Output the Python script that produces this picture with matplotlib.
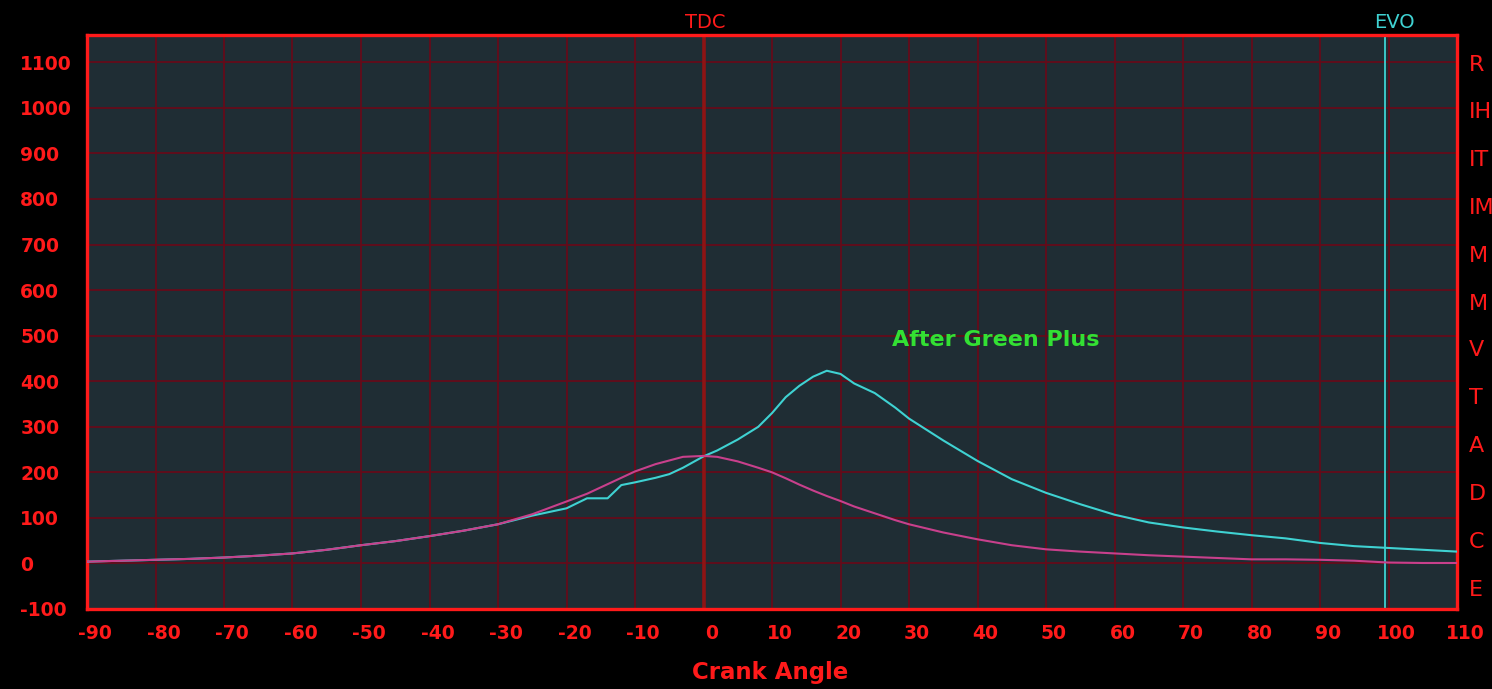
import numpy as np
import matplotlib
matplotlib.use("Agg")
import matplotlib.pyplot as plt
from matplotlib.transforms import ScaledTranslation

plt.rcParams["axes.unicode_minus"] = False

# crank angle (deg) and pressure-like trace values
ANGLE = [-90, -80, -75, -70, -65, -60, -55, -50, -45, -40, -35, -30, -25, -20,
         -17, -14, -12, -10, -7, -5, -3, 0, 2, 5, 8, 10, 12, 14, 16, 18, 20,
         22, 25, 28, 30, 35, 40, 45, 50, 55, 60, 65, 70, 75, 80, 85, 90, 95,
         100, 105, 110]
BEFORE = [4, 8, 10, 13, 17, 22, 30, 40, 49, 60, 72, 86, 108, 136,
          153, 174, 188, 202, 218, 226, 234, 236, 234, 224, 210, 200, 187, 173, 160, 148, 137,
          125, 110, 95, 86, 68, 53, 40, 31, 26, 22, 18, 15, 12, 9, 9, 8, 6,
          2, 1, 1]
AFTER = [4, 8, 10, 13, 17, 22, 30, 40, 49, 60, 72, 86, 105, 121,
         143, 143, 172, 178, 188, 196, 210, 235, 248, 272, 300, 330, 365, 390, 410, 423, 416,
         395, 374, 342, 318, 270, 225, 185, 155, 130, 107, 90, 79, 70, 62, 55, 45, 38,
         34, 30, 26]

X_TICKS = list(range(-90, 111, 10))
Y_TICKS = list(range(-100, 1101, 100))
TDC_ANGLE = 0
EVO_ANGLE = 99.5
SIDE_LABELS = ["R", "IH", "IT", "IM", "M", "M", "V", "T", "A", "D", "C", "E"]
SIDE_Y_PX = [65, 112, 160, 208, 256, 304, 350, 398, 446, 494, 542, 590]

RED = "#ff1a1a"
GRID = "#640b1a"
PANEL = "#1f2d34"
CYAN = "#3fd2d2"
MAGENTA = "#c8408c"
GREEN = "#33e033"

W, H = 1492, 689
fig = plt.figure(figsize=(W / 100, H / 100), dpi=100, facecolor="black")
ax = fig.add_axes([87 / W, 1 - 609 / H, (1457 - 87) / W, (609 - 35) / H])
ax.set_facecolor(PANEL)

ax.set_xlim(-90, 110)
ax.set_ylim(-100, 1160)
ax.set_xticks(X_TICKS)
ax.set_yticks(Y_TICKS)
ax.grid(True, color=GRID, linewidth=1.3)
ax.set_axisbelow(True)

for sp in ax.spines.values():
    sp.set_color(RED)
    sp.set_linewidth(2.4)

ax.tick_params(length=0, colors=RED)
ax.tick_params(axis="y", pad=48)
ax.tick_params(axis="x", pad=11)
for lab in ax.get_yticklabels():
    lab.set_horizontalalignment("left")
    lab.set_fontsize(13.5)
    lab.set_fontweight("bold")
    lab.set_color(RED)
shift = ScaledTranslation(8 / 100, 0, fig.dpi_scale_trans)
for lab in ax.get_xticklabels():
    lab.set_fontsize(13.5)
    lab.set_fontweight("bold")
    lab.set_color(RED)
    lab.set_transform(lab.get_transform() + shift)

# TDC and EVO markers
ax.axvline(TDC_ANGLE, color="#8e1414", linewidth=2.6, zorder=1)
ax.axvline(EVO_ANGLE, color=CYAN, linewidth=1.3, zorder=2)
ax.text(TDC_ANGLE + 0.2, 1.005, "TDC", transform=ax.get_xaxis_transform(),
        ha="center", va="bottom", color=RED, fontsize=14)
ax.text(EVO_ANGLE + 1.4, 1.005, "EVO", transform=ax.get_xaxis_transform(),
        ha="center", va="bottom", color=CYAN, fontsize=14)

ax.plot(ANGLE, AFTER, color=CYAN, linewidth=1.5, zorder=3)
ax.plot(ANGLE, BEFORE, color=MAGENTA, linewidth=1.5, zorder=4)

fig.text(996 / W, 1 - 340 / H, "After Green Plus", color=GREEN,
         fontsize=16, fontweight="bold", ha="center", va="center")
fig.text(770 / W, 1 - 673 / H, "Crank Angle", color=RED, fontsize=16.5,
         fontweight="bold", ha="center", va="center")

for lab, py in zip(SIDE_LABELS, SIDE_Y_PX):
    fig.text(1469 / W, 1 - py / H, lab, color=RED, fontsize=16,
             ha="left", va="center")

fig.savefig("out.png", dpi=100, facecolor="black")
